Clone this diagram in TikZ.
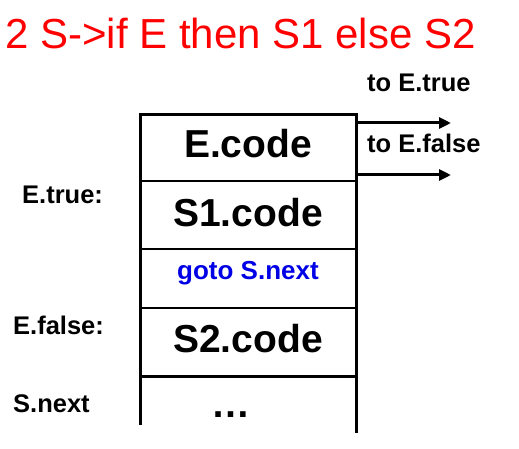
\documentclass[tikz,border=0pt]{standalone}
\usepackage{fontspec}
\setmainfont{Liberation Sans}
\usetikzlibrary{arrows.meta}
\definecolor{titlered}{RGB}{255,0,0}
\definecolor{gotoblue}{RGB}{0,0,230}
\begin{document}
\begin{tikzpicture}[x=1pt,y=-1pt,
  big/.style={font=\fontsize{39}{39}\selectfont\bfseries,inner sep=0pt,anchor=base},
  mid/.style={font=\fontsize{26}{26}\selectfont\bfseries,inner sep=0pt,anchor=base},
  lab/.style={font=\fontsize{25.5}{25.5}\selectfont\bfseries,inner sep=0pt,anchor=base west},
  outer/.style={line width=3pt},
  thin/.style={line width=1.3pt},
  jump/.style={line width=3pt,-{Triangle[length=12pt,width=11pt]}}]
\useasboundingbox (0,0) rectangle (519,449);
% title
\node[anchor=base west,inner sep=0pt,text=titlered,font=\fontsize{42}{42}\selectfont] (title) at (5,49) {2 S->if E then S1 else S2};
% box outline
\coordinate (tl) at (140,115);
\coordinate (tr) at (356,115);
\coordinate (bl) at (140,425);
\coordinate (br) at (356,433);
\draw[outer] (bl) -- (tl) -- (tr) -- (br);
\draw[thin] (140,181) -- (356,181);
\draw[thin] (140,249) -- (356,249);
\draw[thin] (140,308) -- (356,308);
\draw[outer] (140,376) -- (356,376);
% cell texts
\node[big] (ecode) at (248,158) {E.code};
\node[big] (s1code) at (248,226) {S1.code};
\node[mid,text=gotoblue] (goto) at (248,279) {goto S.next};
\node[big] (s2code) at (248,352) {S2.code};
\node[big] (dots) at (231,417) {…};
% left labels
\node[lab] (etrue) at (22,204) {E.true:};
\node[lab] (efalse) at (13,334) {E.false:};
\node[lab] (snext) at (13,412) {S.next};
% right labels
\node[lab] (totrue) at (367,92) {to E.true};
\node[lab] (tofalse) at (367,153) {to E.false};
% arrows
\coordinate (a1s) at (356,123);
\coordinate (a1e) at (451,123);
\coordinate (a2s) at (356,175);
\coordinate (a2e) at (451,175);
\draw[jump] (a1s) -- (a1e);
\draw[jump] (a2s) -- (a2e);
\end{tikzpicture}
\end{document}
